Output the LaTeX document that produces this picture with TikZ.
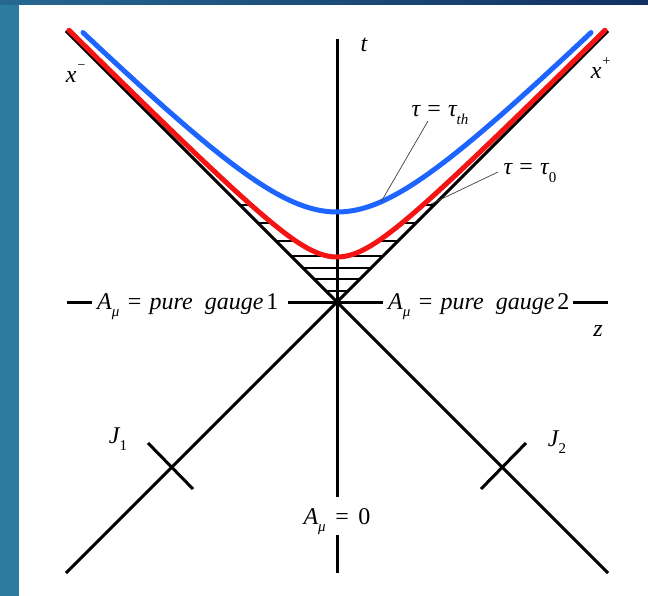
\documentclass[tikz,border=0pt]{standalone}
\usepackage{fontspec}
\setmainfont{Liberation Serif}
\usetikzlibrary{calc}
\definecolor{bgteal}{RGB}{44,124,160}
\definecolor{bgtop}{RGB}{38,104,146}
\definecolor{bgnavy}{RGB}{18,48,98}
\definecolor{cblue}{RGB}{30,100,255}
\definecolor{cred}{RGB}{245,20,20}
\newcommand{\lbl}{\fontsize{24}{28}\selectfont}
\newcommand{\sbs}[1]{\raisebox{-0.32em}{\fontsize{15}{15}\selectfont\itshape #1}}
\newcommand{\sps}[1]{\raisebox{0.55em}{\fontsize{14}{14}\selectfont #1}}
\tikzset{
  axisline/.style={line width=3pt, black},
  hatchline/.style={line width=2.6pt, black},
  curvered/.style={line width=5pt, cred, line cap=round},
  curveblue/.style={line width=5pt, cblue, line cap=round},
  leader/.style={line width=0.7pt, black!75},
  txt/.style={inner sep=0pt, font=\lbl},
  jtick/.style={line width=3pt, black},
}
\begin{document}
\begin{tikzpicture}[x=1pt,y=-1pt]
\useasboundingbox (0,0) rectangle (648,596);
% background
\fill[white] (0,0) rectangle (648,596);
\fill[bgteal] (0,0) rectangle (19,596);
\shade[left color=bgtop, right color=bgnavy] (0,0) rectangle (648,5);
% key points
\coordinate (O) at (337,302);
\coordinate (LT) at (66,31);
\coordinate (RT) at (608,31);
\coordinate (LB) at (66,573);
\coordinate (RB) at (608,573);
% hatching
\begin{scope}
\clip (O) -- (187,152) -- plot[domain=-150:150, samples=80] ({337+\x},{302-10*veclen(\x/10,4.5)}) -- (487,152) -- cycle;
\foreach \t in {11,23,34,46,61,79,97}
  \draw[hatchline] (180,302-\t) -- (494,302-\t);
\end{scope}
% light cone
\draw[axisline] (LT) -- (RB);
\draw[axisline] (RT) -- (LB);
% t axis
\coordinate (ttop) at (337,39);
\coordinate (tmid) at (337,497);
\coordinate (tlow1) at (337,535);
\coordinate (tlow2) at (337,573);
\draw[axisline] (ttop) -- (tmid);
\draw[axisline] (tlow1) -- (tlow2);
% z axis segments
\coordinate (z1a) at (67,302); \coordinate (z1b) at (92,302);
\coordinate (z2a) at (288,302); \coordinate (z2b) at (383,302);
\coordinate (z3a) at (573,302); \coordinate (z3b) at (608,302);
\draw[axisline] (z1a) -- (z1b);
\draw[axisline] (z2a) -- (z2b);
\draw[axisline] (z3a) -- (z3b);
% hyperbolas
\draw[curvered] plot[domain=-268:268, samples=201, smooth] ({337+\x},{302-10*veclen(\x/10,4.5)});
\draw[curveblue] plot[domain=-254:254, samples=201, smooth] ({337+\x},{302-10*veclen(\x/10,9)});
% J ticks
\coordinate (J1c) at (171,467);
\coordinate (J2c) at (503,467);
\draw[jtick] ($(J1c)+(-23,-24)$) -- ($(J1c)+(22,22)$);
\draw[jtick] ($(J2c)+(23,-24)$) -- ($(J2c)+(-22,22)$);
% labels
\node[txt, anchor=base] (tl) at (364,52) {\itshape t};
\node[txt, anchor=base] (xm) at (76,83) {\itshape x\sps{−}};
\node[txt, anchor=base] (xp) at (601,79) {\itshape x\sps{+}};
\node[txt, anchor=base] (zl) at (598,336) {\itshape z};
\node[txt, anchor=base west] (g1) at (97,309) {\itshape A\sbs{μ}\hspace{0.35em}\upshape=\hspace{0.35em}\itshape pure\hspace{0.5em}gauge\hspace{0.12em}\upshape 1};
\node[txt, anchor=base west] (g2) at (388,309) {\itshape A\sbs{μ}\hspace{0.35em}\upshape=\hspace{0.35em}\itshape pure\hspace{0.5em}gauge\hspace{0.12em}\upshape 2};
\node[txt, anchor=base] (a0) at (337,524) {\itshape A\sbs{μ}\hspace{0.4em}\upshape=\hspace{0.4em}0};
\node[txt, anchor=base] (j1) at (118,443) {\itshape J\sbs{\upshape 1}};
\node[txt, anchor=base] (j2) at (557,446) {\itshape J\sbs{\upshape 2}};
\node[txt, anchor=base] (tth) at (440,117) {\itshape τ\hspace{0.3em}\upshape=\hspace{0.3em}\itshape τ\sbs{th}};
\node[txt, anchor=base] (tz) at (530,175) {\itshape τ\hspace{0.3em}\upshape=\hspace{0.3em}\itshape τ\sbs{\upshape 0}};
% leaders
\coordinate (bpt) at (381,202);
\coordinate (rpt) at (431,204);
\draw[leader] (428,121) -- (bpt);
\draw[leader] (498,172) -- (rpt);
\end{tikzpicture}
\end{document}
